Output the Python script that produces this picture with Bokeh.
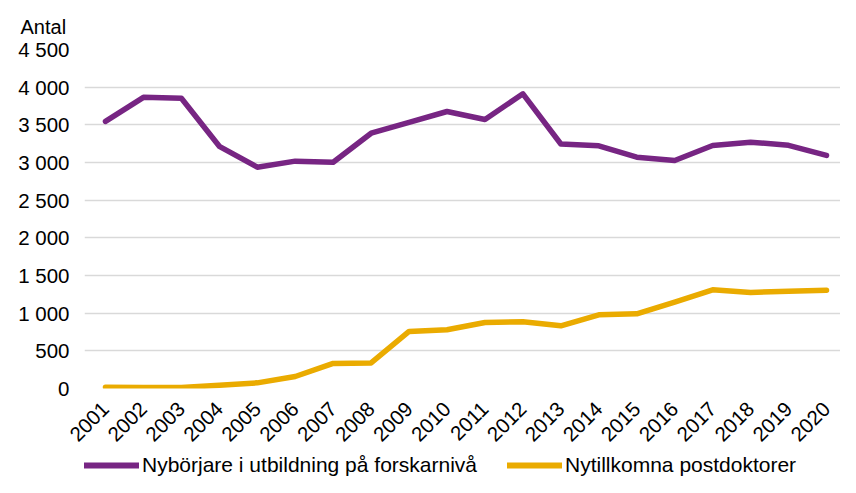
import numpy as np
from bokeh.plotting import figure
from bokeh.layouts import column
from bokeh.models import Legend, LegendItem, FixedTicker, Range1d
from bokeh.embed import file_html
from bokeh.resources import INLINE

years = list(range(2001, 2021))
nyborjare = [3545, 3865, 3853, 3215, 2938, 3018, 3003, 3389, 3532, 3677, 3571,
             3912, 3246, 3221, 3071, 3027, 3226, 3270, 3228, 3094]
postdoktorer = [18, 12, 12, 42, 75, 159, 333, 340, 757, 779, 876,
                885, 832, 978, 991, 1146, 1310, 1274, 1292, 1305]
y_ticks = [0, 500, 1000, 1500, 2000, 2500, 3000, 3500, 4000, 4500]
y_tick_labels = ["0", "500", "1 000", "1 500", "2 000", "2 500", "3 000", "3 500", "4 000", "4 500"]
series_names = ["Nybörjare i utbildning på forskarnivå", "Nytillkomna postdoktorer"]
colors = ["#772583", "#EAAB00"]

FONT = "Liberation Sans"
LEFT = 84

p = figure(width=840, height=452, output_backend="svg", toolbar_location=None,
           x_range=Range1d(2000.447, 2020.369), y_range=Range1d(0, 4500),
           min_border_left=LEFT, min_border_right=0, min_border_top=49, min_border_bottom=64)
p.outline_line_color = None
p.background_fill_color = "white"
p.border_fill_color = "white"

p.title.text = "Antal"
p.title.align = "left"
p.title.vertical_align = "bottom"
p.title.offset = -(LEFT - 20)
p.title.standoff = 24
p.title.text_font = FONT
p.title.text_font_size = "20px"
p.title.text_font_style = "normal"
p.title.text_color = "#000000"

r1 = p.line(years, nyborjare, line_color=colors[0], line_width=5.5, line_join="round", line_cap="round")
r2 = p.line(years, postdoktorer, line_color=colors[1], line_width=5.5, line_join="round", line_cap="round")

p.xgrid.grid_line_color = None
p.ygrid.grid_line_color = "#D9D9D9"
p.ygrid.grid_line_width = 1.5
p.ygrid.ticker = FixedTicker(ticks=y_ticks)

p.yaxis.ticker = FixedTicker(ticks=y_ticks)
p.yaxis.major_label_overrides = {t: l for t, l in zip(y_ticks, y_tick_labels)}
p.yaxis.axis_line_color = None
p.yaxis.major_tick_line_color = None
p.yaxis.minor_tick_line_color = None
p.yaxis.major_tick_out = 0
p.yaxis.major_tick_in = 0
p.yaxis.major_label_standoff = 15
p.yaxis.major_label_text_font = FONT
p.yaxis.major_label_text_font_size = "20.5px"
p.yaxis.major_label_text_color = "#000000"

p.xaxis.ticker = FixedTicker(ticks=years)
p.xaxis.axis_line_color = None
p.xaxis.major_tick_line_color = None
p.xaxis.minor_tick_line_color = None
p.xaxis.major_tick_out = 0
p.xaxis.major_tick_in = 0
p.xaxis.major_label_orientation = np.pi / 4
p.xaxis.major_label_standoff = 17
p.xaxis.major_label_text_font = FONT
p.xaxis.major_label_text_font_size = "20.5px"
p.xaxis.major_label_text_color = "#000000"

# legend strip below the chart (same series, drawn outside this strip's visible range)
lg = figure(width=840, height=25, output_backend="svg", toolbar_location=None,
            x_range=Range1d(-2, -1), y_range=Range1d(-2, -1),
            x_axis_type=None, y_axis_type=None,
            min_border_left=LEFT, min_border_right=0, min_border_top=0, min_border_bottom=0)
lg.outline_line_color = None
lg.xgrid.visible = False
lg.ygrid.visible = False
lr1 = lg.line(years, nyborjare, line_color=colors[0], line_width=6, line_cap="round")
lr2 = lg.line(years, postdoktorer, line_color=colors[1], line_width=6, line_cap="round")

legend = Legend(items=[LegendItem(label=series_names[0], renderers=[lr1]),
                       LegendItem(label=series_names[1], renderers=[lr2])],
                orientation="horizontal", location=(0, 0),
                glyph_width=55, glyph_height=20, label_standoff=3, spacing=30,
                label_text_font=FONT, label_text_font_size="21px", label_text_color="#000000",
                border_line_color=None, background_fill_alpha=0, margin=0, padding=2)
lg.add_layout(legend, "center")

layout = column(p, lg, spacing=0)
open("out.html", "w").write(file_html(layout, INLINE))
